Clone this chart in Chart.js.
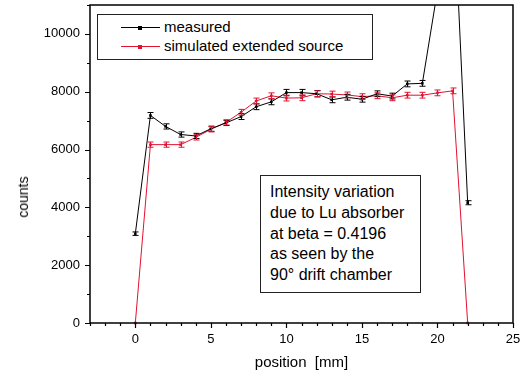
<!DOCTYPE html>
<html><head><meta charset="utf-8">
<script src="https://cdn.jsdelivr.net/npm/chart.js@4/dist/chart.umd.min.js"></script>
<style>
html,body{margin:0;padding:0;background:#fff;}
#wrap{position:relative;width:520px;height:375px;font-family:"Liberation Sans",Arial,sans-serif;color:#000;}
#c{position:absolute;left:0;top:0;}
.box{position:absolute;border:1px solid #222;background:#fff;box-sizing:border-box;}
#legend{left:97px;top:14px;width:276px;height:46px;}
.lrow{position:absolute;left:0;height:18px;font-size:15px;line-height:18px;white-space:nowrap;}
.lline{position:absolute;left:23px;width:39px;height:1px;top:9px;}
.lmark{position:absolute;left:40px;width:4px;height:4px;top:7.5px;}
.ltext{position:absolute;left:66px;top:0;}
#note{left:260px;top:175px;width:161px;height:118px;font-size:16px;line-height:20.8px;padding:6px 0 0 9px;white-space:nowrap;}
#ytitle{position:absolute;left:23px;top:197px;transform:translate(-50%,-50%) rotate(-90deg);font-size:14px;white-space:nowrap;}
</style>
</head><body>
<div id="wrap">
<canvas id="c" width="520" height="375"></canvas>
<div id="ytitle">counts</div>
<div id="legend" class="box">
  <div class="lrow" style="top:3px"><div class="lline" style="background:#000"></div><div class="lmark" style="background:#000"></div><span class="ltext">measured</span></div>
  <div class="lrow" style="top:22px"><div class="lline" style="background:#e2112f"></div><div class="lmark" style="background:#e2112f"></div><span class="ltext">simulated extended source</span></div>
</div>
<div id="note" class="box">Intensity variation<br>due to Lu absorber<br>at beta = 0.4196<br>as seen by the<br>90° drift chamber</div>
</div>
<script>
const positions   = [0,1,2,3,4,5,6,7,8,9,10,11,12,13,14,15,16,17,18,19,20,21,22];
const measured    = [3090,7180,6800,6520,6470,6720,6920,7140,7480,7650,7970,7970,7930,7720,7810,7740,7930,7850,8270,8290,11500,15500,4160];
const measuredErr = [60,100,90,90,90,90,90,100,100,100,110,110,110,100,100,100,100,100,100,100,120,140,70];
const simulated   = [0,6170,6170,6170,6420,6700,6940,7290,7680,7860,7780,7790,7930,7920,7890,7830,7860,7790,7880,7880,7960,8030,0];
const simulatedErr= [0,90,90,90,90,90,90,100,100,100,100,100,100,100,100,100,100,100,100,100,100,100,0];
const xTicksMajor = [0,5,10,15,20,25];
const yTicksMajor = [0,2000,4000,6000,8000,10000];

const BLACK = '#000000', RED = '#e2112f';

function pts(vals){ return positions.map((p,i)=>({x:p, y:vals[i]})); }

const errorBars = {
  id:'errorBars',
  afterDatasetsDraw(chart){
    const {ctx, chartArea:a} = chart;
    const xs = chart.scales.x, ys = chart.scales.y;
    ctx.save();
    ctx.beginPath(); ctx.rect(a.left, a.top, a.right-a.left, a.bottom-a.top); ctx.clip();
    chart.data.datasets.forEach(ds=>{
      ctx.strokeStyle = ds.borderColor; ctx.lineWidth = 1;
      ds.data.forEach((p,j)=>{
        const e = ds.errors[j]; if(!e) return;
        const x = Math.round(xs.getPixelForValue(p.x))+0.5;
        const y1 = ys.getPixelForValue(p.y-e), y2 = ys.getPixelForValue(p.y+e);
        ctx.beginPath();
        ctx.moveTo(x,y1); ctx.lineTo(x,y2);
        ctx.moveTo(x-3,y1); ctx.lineTo(x+3,y1);
        ctx.moveTo(x-3,y2); ctx.lineTo(x+3,y2);
        ctx.stroke();
      });
    });
    ctx.restore();
  }
};

const frame = {
  id:'frame',
  afterDraw(chart){
    const {ctx, chartArea:a} = chart;
    const xs = chart.scales.x, ys = chart.scales.y;
    ctx.save();
    ctx.strokeStyle = '#000'; ctx.lineWidth = 1.5;
    ctx.strokeRect(a.left, a.top, a.right-a.left, a.bottom-a.top);
    ctx.lineWidth = 1.2;
    ctx.beginPath();
    xs.ticks.forEach(t=>{
      const x = Math.round(xs.getPixelForValue(t.value))+0.5;
      const len = xTicksMajor.includes(t.value) ? 5 : 3;
      ctx.moveTo(x, a.bottom); ctx.lineTo(x, a.bottom+len);
    });
    ys.ticks.forEach(t=>{
      const y = Math.round(ys.getPixelForValue(t.value))+0.5;
      const len = yTicksMajor.includes(t.value) ? 5 : 3;
      ctx.moveTo(a.left, y); ctx.lineTo(a.left-len, y);
    });
    ctx.stroke();
    ctx.restore();
  }
};

new Chart(document.getElementById('c'), {
  type:'line',
  data:{ datasets:[
    { label:'measured', data:pts(measured), errors:measuredErr, borderColor:BLACK, backgroundColor:BLACK,
      borderWidth:1, pointStyle:'rect', pointRadius:1.8, pointBorderWidth:0, tension:0,
      clip:{left:5,right:5,top:0,bottom:5} },
    { label:'simulated extended source', data:pts(simulated), errors:simulatedErr, borderColor:RED, backgroundColor:RED,
      borderWidth:1, pointStyle:'rect', pointRadius:1.8, pointBorderWidth:0, tension:0,
      clip:{left:5,right:5,top:0,bottom:5} }
  ]},
  options:{
    responsive:false, animation:false, devicePixelRatio:1,
    layout:{padding:{left:0,right:7,top:5,bottom:0}},
    plugins:{legend:{display:false}, tooltip:{enabled:false}},
    scales:{
      x:{ type:'linear', min:-3, max:25,
        afterFit(s){ s.height = 52; s.paddingLeft = 0; s.paddingRight = 0; },
        grid:{display:false, drawTicks:false}, border:{display:false},
        ticks:{ stepSize:1, autoSkip:false, maxRotation:0, padding:9, color:'#000',
          font:{family:'Liberation Sans', size:13},
          callback:(v)=> xTicksMajor.includes(v) ? String(v) : '' },
        title:{display:true, text:'position  [mm]', color:'#000', font:{family:'Liberation Sans', size:15}, padding:{top:0,bottom:3}}
      },
      y:{ type:'linear', min:0, max:11000,
        afterFit(s){ s.width = 90; s.paddingTop = 0; s.paddingBottom = 0; },
        grid:{display:false, drawTicks:false}, border:{display:false},
        ticks:{ stepSize:1000, autoSkip:false, padding:10, color:'#000',
          font:{family:'Liberation Sans', size:13},
          callback:(v)=> yTicksMajor.includes(v) ? String(v) : '' }
      }
    }
  },
  plugins:[errorBars, frame]
});
</script>
</body></html>
